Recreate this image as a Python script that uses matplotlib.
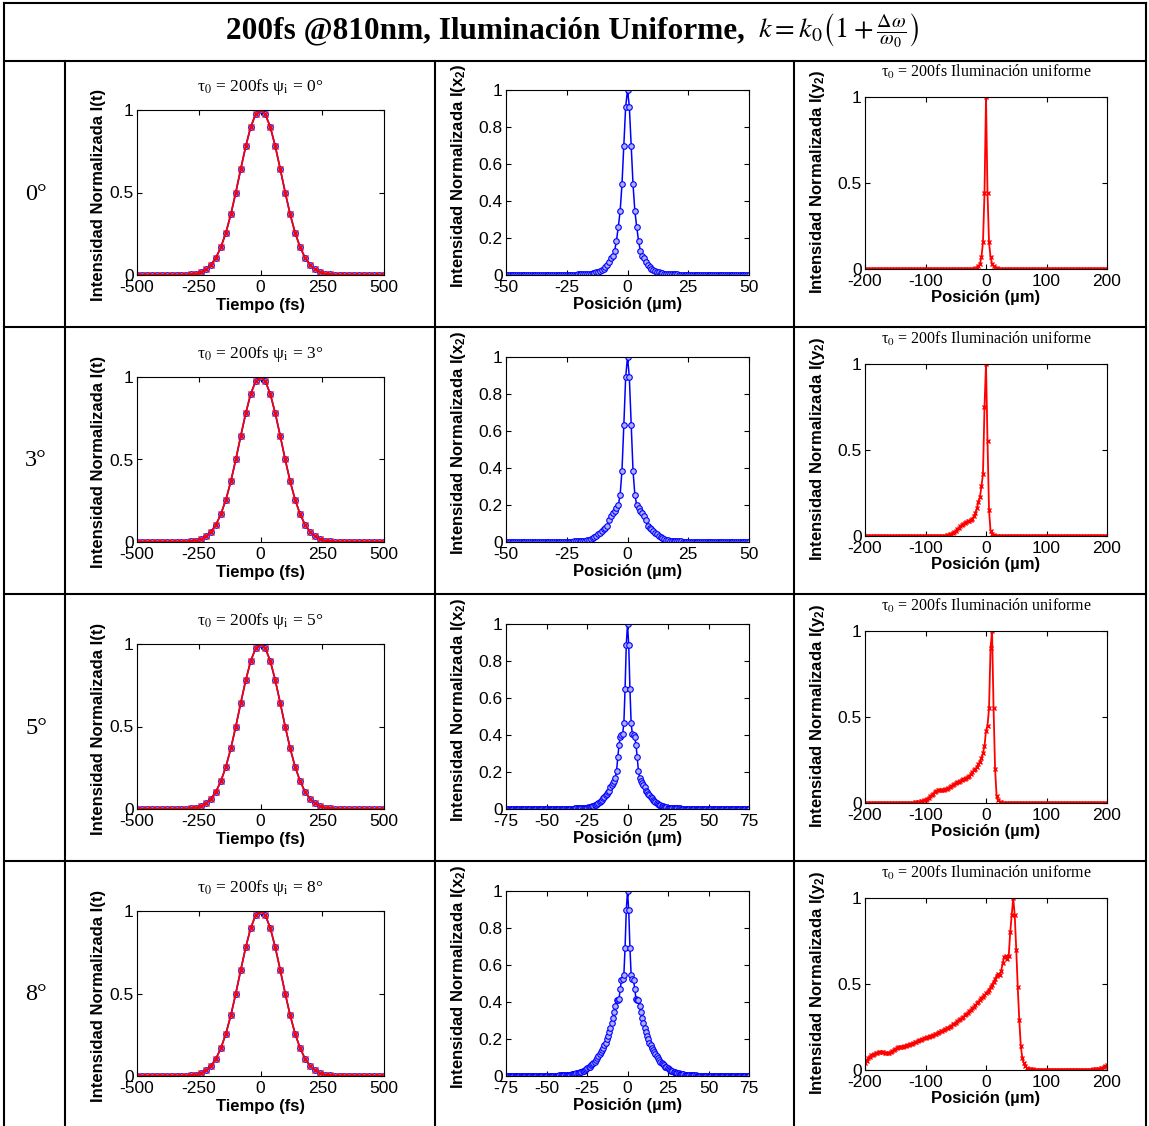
import numpy as np
import matplotlib
matplotlib.use('Agg')
import matplotlib.pyplot as plt
from matplotlib.lines import Line2D
from matplotlib.ticker import FormatStrFormatter

plt.rcParams['font.family'] = 'Liberation Sans'
plt.rcParams['axes.unicode_minus'] = False
plt.rcParams['mathtext.fontset'] = 'custom'
plt.rcParams['mathtext.rm'] = 'Liberation Sans:bold'
plt.rcParams['mathtext.it'] = 'Liberation Sans:bold'
plt.rcParams['mathtext.bf'] = 'Liberation Sans:bold'

# ---------------- data ----------------
angles = ['0', '3', '5', '8']

# temporal profile I(t), same for every angle
pulse_t = np.arange(-500, 501, 20)
pulse_I = [0, 0, 0, 0, 0, 0, 0, 0, 0,
           0.001, 0.002, 0.004, 0.009, 0.019, 0.035, 0.063, 0.106, 0.170,
           0.257, 0.368, 0.5, 0.642, 0.779, 0.895, 0.973, 1.0,
           0.973, 0.895, 0.779, 0.642, 0.5, 0.368, 0.257, 0.170, 0.106,
           0.063, 0.035, 0.019, 0.009, 0.004, 0.002, 0.001,
           0, 0, 0, 0, 0, 0, 0, 0, 0]

# I(x2): symmetric profiles, listed for x >= 0
x2_lim = [50, 50, 75, 75]
x2_half_0 = ([1.0, 0.91, 0.70, 0.49, 0.345, 0.26, 0.185, 0.13, 0.105, 0.09,
              0.07, 0.055, 0.045, 0.035, 0.028, 0.022, 0.018, 0.015, 0.012,
              0.010, 0.008, 0.007, 0.006, 0.005, 0.004, 0.004, 0.003, 0.003,
              0.002, 0.002, 0.002, 0.002, 0.001]
             + [0.001] * 8 + [0.0] * 26)
x2_half_3 = ([1.0, 0.89, 0.63, 0.385, 0.255, 0.20, 0.185, 0.17, 0.157, 0.14,
              0.118, 0.087, 0.078, 0.070, 0.061, 0.050, 0.042, 0.035, 0.028,
              0.022, 0.017, 0.013, 0.010, 0.008, 0.006, 0.005, 0.004, 0.004,
              0.003, 0.003, 0.002, 0.002, 0.002, 0.002]
             + [0.001] * 8 + [0.0] * 25)
x2_half_5 = ([1.0, 0.888, 0.649, 0.463, 0.405, 0.40, 0.39, 0.345, 0.28, 0.205,
              0.17, 0.153, 0.142, 0.13, 0.117, 0.10, 0.09, 0.081, 0.073, 0.066,
              0.057, 0.05, 0.043, 0.037, 0.032, 0.027, 0.023, 0.019, 0.016,
              0.014, 0.012, 0.010, 0.009, 0.008, 0.007, 0.006, 0.005, 0.005,
              0.004, 0.004, 0.004, 0.003, 0.003, 0.003, 0.002, 0.002, 0.002,
              0.002, 0.002, 0.002, 0.002]
             + [0.001] * 10 + [0.0] * 40)
x2_half_8 = ([1.0, 0.897, 0.694, 0.546, 0.525, 0.517, 0.47, 0.416, 0.413, 0.41,
              0.38, 0.345, 0.315, 0.285, 0.262, 0.24, 0.218, 0.20, 0.18, 0.165,
              0.152, 0.14, 0.128, 0.117, 0.107, 0.096, 0.087, 0.078, 0.071,
              0.064, 0.057, 0.051, 0.046, 0.042, 0.037, 0.033, 0.029, 0.026,
              0.023, 0.021, 0.018, 0.016, 0.014, 0.012, 0.011, 0.010, 0.009,
              0.008, 0.007, 0.006, 0.005, 0.005, 0.004, 0.004, 0.003, 0.003,
              0.003, 0.002, 0.002, 0.002, 0.002]
             + [0.001] * 10 + [0.0] * 30)
x2_halves = [x2_half_0, x2_half_3, x2_half_5, x2_half_8]

# I(y2) on a 2.5 um grid from -200 to 200
y2_pos = np.linspace(-200, 200, 161)
y2_0 = ([0.0] * 71
        + [0.001, 0.002, 0.004, 0.008, 0.015, 0.03, 0.07, 0.155, 0.44, 1.0,
           0.44, 0.155, 0.07, 0.03, 0.015, 0.008, 0.004, 0.002, 0.001]
        + [0.0] * 71)
y2_3 = ([0.0] * 53
        + [0.002, 0.004, 0.007, 0.010, 0.014, 0.018, 0.023, 0.03, 0.038,
           0.047, 0.056, 0.064, 0.071, 0.077, 0.082, 0.085, 0.088, 0.093,
           0.10, 0.115, 0.135, 0.16, 0.20, 0.225, 0.29, 0.36, 0.75, 1.0,
           0.55, 0.15, 0.03, 0.01, 0.004, 0.002, 0.001]
        + [0.0] * 73)
y2_5 = ([0.0] * 31
        + [0.001, 0.002, 0.003, 0.004, 0.005, 0.007, 0.009, 0.012, 0.016,
           0.02, 0.025, 0.031, 0.038, 0.045, 0.054, 0.062, 0.068, 0.073,
           0.075, 0.076, 0.076, 0.077, 0.079, 0.083, 0.088, 0.092, 0.097,
           0.103, 0.109, 0.115, 0.12, 0.125, 0.13, 0.134, 0.138, 0.142,
           0.148, 0.152, 0.158, 0.168, 0.18, 0.19, 0.198, 0.21, 0.225, 0.24,
           0.26, 0.29, 0.33, 0.42, 0.45, 0.55, 0.9, 1.0, 0.55, 0.2, 0.04,
           0.015, 0.007, 0.003, 0.001]
        + [0.0] * 69)
y2_8 = ([0.04, 0.055, 0.07, 0.078, 0.085, 0.09, 0.094, 0.098, 0.101, 0.104,
         0.105, 0.105, 0.104, 0.101, 0.098, 0.097, 0.099, 0.104, 0.11, 0.116,
         0.122, 0.127, 0.131, 0.134, 0.135, 0.136, 0.138, 0.141, 0.144, 0.147,
         0.15, 0.153, 0.156, 0.16, 0.165, 0.169, 0.173, 0.176, 0.18, 0.184,
         0.187, 0.19, 0.194, 0.197, 0.2, 0.203, 0.207, 0.211, 0.216, 0.22,
         0.224, 0.228, 0.232, 0.237, 0.242, 0.247, 0.252, 0.258, 0.265, 0.27,
         0.276, 0.282, 0.289, 0.295, 0.302, 0.31, 0.317, 0.325, 0.333, 0.341,
         0.35, 0.359, 0.368, 0.377, 0.387, 0.398, 0.408, 0.417, 0.426, 0.435,
         0.445, 0.455, 0.468, 0.482, 0.497, 0.512, 0.53, 0.548, 0.56, 0.555,
         0.575, 0.62, 0.655, 0.665, 0.645, 0.66, 0.8, 0.9, 1.0, 0.9,
         0.7, 0.48, 0.29, 0.14, 0.07, 0.04, 0.022, 0.013, 0.008, 0.006,
         0.004, 0.003]
        + [0.002] * 39
        + [0.003, 0.004, 0.005, 0.006, 0.008, 0.01, 0.013, 0.017, 0.022, 0.028])
y2_profiles = [y2_0, y2_3, y2_5, y2_8]

# ---------------- layout ----------------
W, H = 1149, 1126
fig = plt.figure(figsize=(W / 100, H / 100), dpi=100)
ROW_H = 267


def box(x0, y0, x1, y1):
    return [x0 / W, 1 - y1 / H, (x1 - x0) / W, (y1 - y0) / H]


def hline(y, x0, x1):
    fig.add_artist(Line2D([x0 / W, x1 / W], [1 - y / H, 1 - y / H],
                          transform=fig.transFigure, color='k', lw=1.5))


def vline(x, y0, y1):
    fig.add_artist(Line2D([x / W, x / W], [1 - y0 / H, 1 - y1 / H],
                          transform=fig.transFigure, color='k', lw=1.5))


def style(ax, xlim, xticks, yticks):
    ax.set_xlim(xlim)
    ax.set_ylim(0, 1)
    ax.set_xticks(xticks)
    ax.set_yticks(yticks)
    ax.yaxis.set_major_formatter(FormatStrFormatter('%g'))
    ax.tick_params(direction='in', top=True, right=True, length=3.5,
                   width=0.8, labelsize=12.5, pad=2.5)
    ax.tick_params(axis='x', pad=3.5)
    for s in ax.spines.values():
        s.set_linewidth(0.8)


# table
hline(3, 4, 1146)
hline(61, 4, 1146)
for r in range(1, 4):
    hline(61 + r * ROW_H - 1, 4, 1146)
vline(4, 3, 1126)
vline(1146, 3, 1126)
for x in (65, 435, 794):
    vline(x, 61, 1126)

fig.text(745 / W, 1 - 38 / H, '200fs @810nm, Iluminación Uniforme,',
         ha='right', va='baseline', family='Liberation Serif',
         weight='bold', size=22.5)
fig.text(758 / W, 1 - 38 / H,
         r'$k = k_0\left(1+\frac{\Delta\omega}{\omega_0}\right)$',
         ha='left', va='baseline', size=20.5, math_fontfamily='stix')

for r, ang in enumerate(angles):
    dy = r * ROW_H
    fig.text(36 / W, 1 - (194 + dy) / H, ang + '°', ha='center',
             va='center', family='Liberation Serif', size=17.5)

    # temporal profile
    ax = fig.add_axes(box(137, 110 + dy, 384, 275 + dy))
    ax.plot(pulse_t, pulse_I, '-', color='b', lw=1.2, marker='o', ms=4.2,
            mfc='#8080ff', mec='b', mew=0.6)
    ax.plot(pulse_t, pulse_I, '-', color='r', lw=1.2, marker='x', ms=4,
            mew=1.0)
    style(ax, (-500, 500), [-500, -250, 0, 250, 500], [0, 0.5, 1])
    ax.text(0.5, 1.115, 'τ$_0$ = 200fs ψ$_{\\rm i}$ = ' + ang + '°',
            transform=ax.transAxes, ha='center', va='baseline',
            family='Liberation Serif', size=12.5, math_fontfamily='stix')
    ax.set_xlabel('Tiempo (fs)', size=12, weight='bold')
    ax.set_ylabel('Intensidad Normalizada I(t)', size=12, weight='bold')
    ax.xaxis.set_label_coords(0.5, -0.14)
    ax.yaxis.set_label_coords(-0.126, 0.485)

    # I(x2)
    lim = x2_lim[r]
    xh = np.linspace(0, lim, len(x2_halves[r]))
    yh = np.array(x2_halves[r])
    xs = np.concatenate([-xh[:0:-1], xh])
    ys = np.concatenate([yh[:0:-1], yh])
    ax = fig.add_axes(box(506, 90 + dy, 749, 275 + dy))
    ax.plot(xs, ys, '-', color='b', lw=1.1, marker='o', ms=4,
            mfc='#b0b0ff', mec='b', mew=0.8)
    style(ax, (-lim, lim), np.arange(-lim, lim + 1, 25),
          [0, 0.2, 0.4, 0.6, 0.8, 1])
    ax.set_xlabel('Posición (µm)', size=12, weight='bold')
    ax.set_ylabel('Intensidad Normalizada I(x$_2$)', size=12, weight='bold')
    ax.xaxis.set_label_coords(0.5, -0.12)
    ax.yaxis.set_label_coords(-0.156, 0.535)

    # I(y2)
    ax = fig.add_axes(box(865, 97 + dy, 1107, 269 + dy))
    ax.plot(y2_pos, y2_profiles[r], '-', color='r', lw=1.3, marker='x',
            ms=3.5, mew=1.0)
    style(ax, (-200, 200), [-200, -100, 0, 100, 200], [0, 0.5, 1])
    ax.text(0.5, 1.116, 'τ$_0$ = 200fs Iluminación uniforme',
            transform=ax.transAxes, ha='center', va='baseline',
            family='Liberation Serif', size=11.5, math_fontfamily='stix')
    ax.set_xlabel('Posición (µm)', size=12, weight='bold')
    ax.set_ylabel('Intensidad Normalizada I(y$_2$)', size=12, weight='bold')
    ax.xaxis.set_label_coords(0.5, -0.122)
    ax.yaxis.set_label_coords(-0.157, 0.51)

fig.savefig('out.png', dpi=100)
